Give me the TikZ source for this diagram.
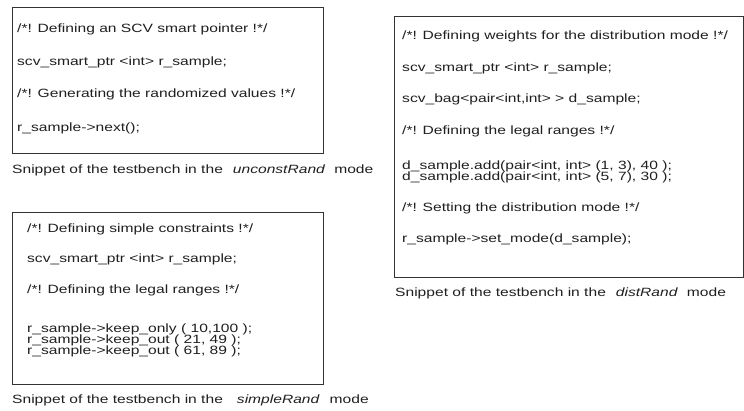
\documentclass[tikz,border=0pt]{standalone}
\usepackage{fontspec}
\setmainfont{Liberation Sans}[FakeStretch=1.3]
\begin{document}
\begin{tikzpicture}[x=1bp,y=-1bp,
  frame/.style={draw=black!80, line width=0.9bp, inner sep=0pt, anchor=north west},
  code/.style={anchor=base west, inner sep=0pt, font=\fontsize{12bp}{12bp}\selectfont, text=black!88},
  caption/.style={anchor=base west, inner sep=0pt, font=\fontsize{12bp}{12bp}\selectfont, text=black!88}]
\useasboundingbox (0,0) rectangle (744,410);

% unconstRand snippet
\node[frame, minimum width=311bp, minimum height=146bp] (box1) at (12,7) {};
\node[code] (u1) at (17,32) {/*! Defining an SCV smart pointer !*/};
\node[code] (u2) at (17,65) {scv\_smart\_ptr <int> r\_sample;};
\node[code] (u3) at (17,97) {/*! Generating the randomized values !*/};
\node[code] (u4) at (17,131) {r\_sample->next();};
\node[caption] (cap1) at (12,173) {Snippet of the testbench in the\hspace{10bp}\textit{unconstRand}\hspace{9bp}mode};

% simpleRand snippet
\node[frame, minimum width=311bp, minimum height=172bp] (box2) at (12,212) {};
\node[code] (s1) at (27,232) {/*! Defining simple constraints !*/};
\node[code] (s2) at (27,262) {scv\_smart\_ptr <int> r\_sample;};
\node[code] (s3) at (27,293) {/*! Defining the legal ranges !*/};
\node[code] (s4) at (27,332) {r\_sample->keep\_only ( 10,100 );};
\node[code] (s5) at (27,343) {r\_sample->keep\_out ( 21, 49 );};
\node[code] (s6) at (27,354) {r\_sample->keep\_out ( 61, 89 );};
\node[caption] (cap2) at (12,403) {Snippet of the testbench in the\hspace{14bp}\textit{simpleRand}\hspace{10bp}mode};

% distRand snippet
\node[frame, minimum width=348.5bp, minimum height=261bp] (box3) at (394,16) {};
\node[code] (d1) at (402,39) {/*! Defining weights for the distribution mode !*/};
\node[code] (d2) at (402,71) {scv\_smart\_ptr <int> r\_sample;};
\node[code] (d3) at (402,102) {scv\_bag<pair<int,int> > d\_sample;};
\node[code] (d4) at (402,134) {/*! Defining the legal ranges !*/};
\node[code] (d5) at (402,169) {d\_sample.add(pair<int, int> (1, 3), 40 );};
\node[code] (d6) at (402,180) {d\_sample.add(pair<int, int> (5, 7), 30 );};
\node[code] (d7) at (402,211) {/*! Setting the distribution mode !*/};
\node[code] (d8) at (402,242) {r\_sample->set\_mode(d\_sample);};
\node[caption] (cap3) at (395,296) {Snippet of the testbench in the\hspace{10bp}\textit{distRand}\hspace{9bp}mode};
\end{tikzpicture}
\end{document}
